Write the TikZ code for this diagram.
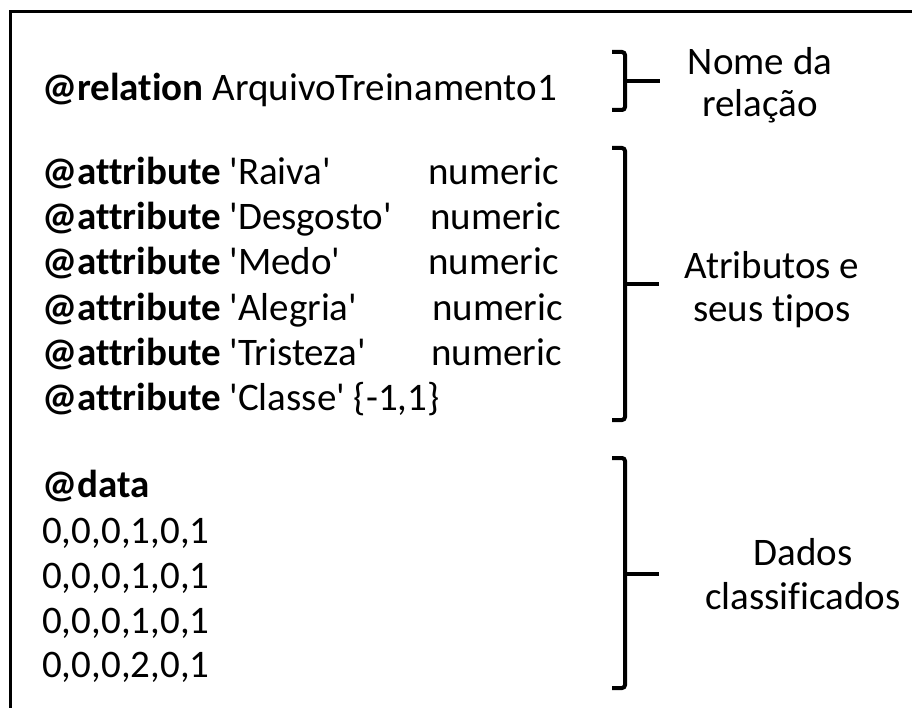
\documentclass[tikz,border=0pt]{standalone}
\usepackage{fontspec}
\setmainfont{Carlito}[Ligatures={NoCommon}]
\newcommand{\q}{\textquotesingle}
\begin{document}
\begin{tikzpicture}[x=1pt,y=-1pt,
  txt/.style={anchor=base west,inner sep=0pt,font=\fontsize{39}{47}\selectfont},
  lbl/.style={anchor=base,inner sep=0pt,font=\fontsize{39}{47}\selectfont},
  frame/.style={line width=3pt},
  brace/.style={line width=4pt,rounded corners=3pt},
  tick/.style={line width=4pt}]
\useasboundingbox (0,0) rectangle (912,708);
% open frame: left and top edges
\draw[frame] (10.5,720) -- (10.5,11.5) -- (925,11.5);

% relation line
\node[txt] (rel) at (42,101) {\textbf{@relation} ArquivoTreinamento1};

% attribute declarations
\node[txt] (a1) at (42,185) {\textbf{@attribute} \q Raiva\q};
\node[txt] (a2) at (42,230) {\textbf{@attribute} \q Desgosto\q};
\node[txt] (a3) at (42,275) {\textbf{@attribute} \q Medo\q};
\node[txt] (a4) at (42,320) {\textbf{@attribute} \q Alegria\q};
\node[txt] (a5) at (42,365) {\textbf{@attribute} \q Tristeza\q};
\node[txt] (a6) at (42,410) {\textbf{@attribute} \q Classe\q{} \{-1,1\}};
\node[txt] (t1) at (428,185) {numeric};
\node[txt] (t2) at (430,230) {numeric};
\node[txt] (t3) at (428,275) {numeric};
\node[txt] (t4) at (432,320) {numeric};
\node[txt] (t5) at (431,365) {numeric};

% data section
\node[txt] (dat) at (42,497) {\textbf{@data}};
\node[txt] (d1) at (42,543) {0,0,0,1,0,1};
\node[txt] (d2) at (42,588) {0,0,0,1,0,1};
\node[txt] (d3) at (42,633) {0,0,0,1,0,1};
\node[txt] (d4) at (42,677) {0,0,0,2,0,1};

% braces with their pointer ticks
\coordinate (b1t) at (612,52);  \coordinate (b1b) at (612,110);
\coordinate (b2t) at (612,148); \coordinate (b2b) at (612,420);
\coordinate (b3t) at (612,458); \coordinate (b3b) at (612,688);
\draw[brace] (b1t) -- ++(13,0) |- (b1b);
\draw[tick] (625,81) -- (660,81);
\draw[brace] (b2t) -- ++(13,0) |- (b2b);
\draw[tick] (625,284) -- (659,284);
\draw[brace] (b3t) -- ++(13,0) |- (b3b);
\draw[tick] (625,574) -- (659,574);

% labels
\node[lbl] (l1a) at (760,75) {Nome da};
\node[lbl] (l1b) at (760,117) {relação};
\node[lbl] (l2a) at (772,279) {Atributos e};
\node[lbl] (l2b) at (772,322) {seus tipos};
\node[lbl] (l3a) at (803,565) {Dados};
\node[lbl] (l3b) at (803,609) {classificados};
\end{tikzpicture}
\end{document}
